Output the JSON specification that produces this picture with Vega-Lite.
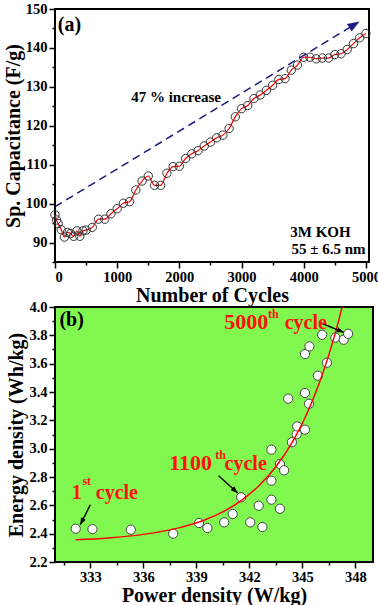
{
  "$schema": "https://vega.github.io/schema/vega-lite/v6.json",
  "padding": {"left": 2, "top": 0, "right": 4, "bottom": 2},
  "bounds": "flush",
  "spacing": 45,
  "background": "white",
  "config": {
    "font": "Liberation Serif",
    "view": {"stroke": "black", "strokeWidth": 2},
    "axis": {
      "grid": false, "domain": false,
      "tickColor": "black", "tickWidth": 1.5,
      "labelFont": "Liberation Serif", "labelFontWeight": "bold", "labelFontSize": 14.5, "labelColor": "black", "labelPadding": 2,
      "titleFont": "Liberation Serif", "titleFontWeight": "bold", "titleFontSize": 20, "titleColor": "black"
    }
  },
  "vconcat": [
    {
      "width": 314, "height": 253,
      "encoding": {
        "x": {"field": "x", "type": "quantitative", "scale": {"domain": [0, 5050], "nice": false, "zero": false},
          "axis": {"title": "Number of Cycles", "values": [0,500,1000,1500,2000,2500,3000,3500,4000,4500,5000], "format": "d",
            "labelExpr": "datum.value % 1000 === 0 ? datum.label : ''",
            "tickSize": {"condition": {"test": "datum.value % 1000 === 0", "value": 6}, "value": 3},
            "titlePadding": 2}},
        "y": {"field": "y", "type": "quantitative", "scale": {"domain": [85, 150], "nice": false, "zero": false},
          "axis": {"title": "Sp. Capacitance (F/g)", "values": [85,90,95,100,105,110,115,120,125,130,135,140,145,150],
            "labelExpr": "datum.value % 10 === 0 ? datum.label : ''",
            "tickSize": {"condition": {"test": "datum.value % 10 === 0", "value": 6}, "value": 3},
            "titlePadding": 2}}
      },
      "layer": [
        {
          "data": {"values": [
            {"x":0,"y":97.1},{"x":25,"y":95.8},{"x":50,"y":94.9},{"x":100,"y":93.3},{"x":150,"y":91.4},{"x":200,"y":92.6},{"x":250,"y":92.3},{"x":300,"y":91.6},{"x":350,"y":93.0},{"x":400,"y":91.6},{"x":450,"y":93.0},{"x":500,"y":93.2},{"x":600,"y":93.9},{"x":700,"y":96.0},{"x":800,"y":96.0},{"x":900,"y":97.4},{"x":1000,"y":98.7},{"x":1100,"y":100.1},{"x":1200,"y":100.5},{"x":1300,"y":103.5},{"x":1400,"y":105.8},{"x":1500,"y":107.1},{"x":1600,"y":104.7},{"x":1700,"y":104.7},{"x":1800,"y":107.8},{"x":1900,"y":109.5},{"x":2000,"y":109.6},{"x":2100,"y":111.6},{"x":2200,"y":112.8},{"x":2300,"y":113.6},{"x":2400,"y":114.8},{"x":2500,"y":115.8},{"x":2600,"y":116.9},{"x":2700,"y":117.6},{"x":2800,"y":119.3},{"x":2900,"y":122.3},{"x":3000,"y":124.4},{"x":3100,"y":125.2},{"x":3200,"y":127.0},{"x":3300,"y":127.9},{"x":3400,"y":129.1},{"x":3500,"y":130.4},{"x":3600,"y":131.9},{"x":3700,"y":132.1},{"x":3800,"y":134.3},{"x":3900,"y":135.6},{"x":4000,"y":137.6},{"x":4100,"y":137.6},{"x":4200,"y":137.2},{"x":4300,"y":137.4},{"x":4400,"y":137.4},{"x":4500,"y":138.3},{"x":4600,"y":138.5},{"x":4700,"y":139.6},{"x":4800,"y":141.1},{"x":4900,"y":142.6},{"x":5000,"y":143.7}
          ]},
          "layer": [
            {"mark": {"type": "line", "color": "#ff0000", "strokeWidth": 1.2, "interpolate": "monotone"}},
            {"mark": {"type": "point", "shape": "circle", "filled": false, "stroke": "#333333", "strokeWidth": 1, "size": 70, "opacity": 1}}
          ]
        },
        {
          "data": {"values": [{"x": 0, "y": 99.2}, {"x": 4800, "y": 145.85}]},
          "mark": {"type": "line", "color": "#1a1a80", "strokeWidth": 1.5, "strokeDash": [8, 5]}
        },
        {
          "data": {"values": [{"x": 4898, "y": 146.8}]},
          "mark": {"type": "point", "shape": "M0,0L0.75,2L-0.75,2Z", "filled": true, "fill": "#1a1a80", "strokeWidth": 0, "size": 144, "angle": 58.5, "opacity": 1}
        },
        {
          "data": {"values": [{"x": 44, "y": 144.3, "t": "(a)"}]},
          "mark": {"type": "text", "font": "Liberation Serif", "fontWeight": "bold", "fontSize": 20, "align": "left", "baseline": "alphabetic", "color": "black"},
          "encoding": {"text": {"field": "t"}}
        },
        {
          "data": {"values": [{"x": 1947, "y": 126.1, "t": "47 % increase"}, {"x": 4269, "y": 91.3, "t": "3M KOH"}, {"x": 4398, "y": 87.0, "t": "55 ± 6.5 nm"}]},
          "mark": {"type": "text", "font": "Liberation Serif", "fontWeight": "bold", "fontSize": 15, "align": "center", "baseline": "alphabetic", "color": "black"},
          "encoding": {"text": {"field": "t"}}
        }
      ]
    },
    {
      "width": 318, "height": 255,
      "view": {"fill": "#80F850", "stroke": "black", "strokeWidth": 2},
      "encoding": {
        "x": {"field": "x", "type": "quantitative", "scale": {"domain": [331, 349], "nice": false, "zero": false},
          "axis": {"title": "Power density (W/kg)", "values": [331.5,333,334.5,336,337.5,339,340.5,342,343.5,345,346.5,348], "format": "d",
            "labelExpr": "(datum.value - 333) % 3 === 0 ? datum.label : ''",
            "tickSize": {"condition": {"test": "(datum.value - 333) % 3 === 0", "value": 6}, "value": 3},
            "titlePadding": 2}},
        "y": {"field": "y", "type": "quantitative", "scale": {"domain": [2.2, 4.0], "nice": false, "zero": false},
          "axis": {"title": "Energy density (Wh/kg)", "values": [2.2,2.3,2.4,2.5,2.6,2.7,2.8,2.9,3.0,3.1,3.2,3.3,3.4,3.5,3.6,3.7,3.8,3.9,4.0], "format": ".1f",
            "labelExpr": "round(datum.value * 10) % 2 === 0 ? datum.label : ''",
            "tickSize": {"condition": {"test": "round(datum.value * 10) % 2 === 0", "value": 6}, "value": 3},
            "titlePadding": 2}}
      },
      "layer": [
        {
          "data": {"values": [
            {"x":332.17,"y":2.435},{"x":333.12,"y":2.432},{"x":335.29,"y":2.428},{"x":337.69,"y":2.40},{"x":339.15,"y":2.475},{"x":339.63,"y":2.44},{"x":340.58,"y":2.48},{"x":341.06,"y":2.539},{"x":341.54,"y":2.657},{"x":342.05,"y":2.48},{"x":342.53,"y":2.597},{"x":342.74,"y":2.447},{"x":343.25,"y":2.993},{"x":343.25,"y":2.774},{"x":343.25,"y":2.64},{"x":343.73,"y":2.892},{"x":343.73,"y":2.576},{"x":343.97,"y":2.847},{"x":344.41,"y":3.045},{"x":344.68,"y":3.102},{"x":344.71,"y":3.157},{"x":345.15,"y":3.134},{"x":344.2,"y":3.353},{"x":345.15,"y":3.393},{"x":345.38,"y":3.317},{"x":345.88,"y":3.515},{"x":346.39,"y":3.607},{"x":345.15,"y":3.668},{"x":345.4,"y":3.722},{"x":346.12,"y":3.804},{"x":346.87,"y":3.784},{"x":347.34,"y":3.769},{"x":347.59,"y":3.811}
          ]},
          "mark": {"type": "point", "shape": "circle", "filled": true, "fill": "white", "stroke": "#444444", "strokeWidth": 1, "size": 85, "opacity": 1}
        },
        {
          "data": {"values": [
            {"x":332.17,"y":2.357},{"x":334,"y":2.370},{"x":336,"y":2.395},{"x":338,"y":2.441},{"x":339.5,"y":2.498},{"x":340.5,"y":2.554},{"x":341.5,"y":2.630},{"x":342.5,"y":2.733},{"x":343.5,"y":2.872},{"x":344.5,"y":3.061},{"x":345.2,"y":3.231},{"x":345.9,"y":3.442},{"x":346.5,"y":3.662},{"x":347.0,"y":3.877},{"x":347.3,"y":4.024}
          ]},
          "mark": {"type": "line", "color": "#ff0000", "strokeWidth": 1.5, "interpolate": "monotone", "clip": true}
        },
        {
          "data": {"values": [
            {"x":333.0,"y":2.604,"id":"a"},{"x":332.43,"y":2.463,"id":"a"},
            {"x":340.26,"y":2.809,"id":"b"},{"x":341.34,"y":2.687,"id":"b"},
            {"x":345.95,"y":3.892,"id":"c"},{"x":347.34,"y":3.821,"id":"c"}
          ]},
          "mark": {"type": "line", "color": "black", "strokeWidth": 1.5},
          "encoding": {"detail": {"field": "id"}}
        },
        {
          "data": {"values": [{"x":332.43,"y":2.463}]},
          "mark": {"type": "point", "shape": "M0,0L0.75,2L-0.75,2Z", "filled": true, "fill": "black", "strokeWidth": 0, "size": 49, "angle": 206.6, "opacity": 1}
        },
        {
          "data": {"values": [{"x":341.34,"y":2.687}]},
          "mark": {"type": "point", "shape": "M0,0L0.75,2L-0.75,2Z", "filled": true, "fill": "black", "strokeWidth": 0, "size": 49, "angle": 132.2, "opacity": 1}
        },
        {
          "data": {"values": [{"x":347.34,"y":3.821}]},
          "mark": {"type": "point", "shape": "M0,0L0.75,2L-0.75,2Z", "filled": true, "fill": "black", "strokeWidth": 0, "size": 49, "angle": 112.3, "opacity": 1}
        },
        {
          "data": {"values": [{"x": 331.25, "y": 3.863, "t": "(b)"}]},
          "mark": {"type": "text", "font": "Liberation Serif", "fontWeight": "bold", "fontSize": 20, "align": "left", "baseline": "alphabetic", "color": "black"},
          "encoding": {"text": {"field": "t"}}
        },
        {
          "data": {"values": [{"x": 331.95, "y": 2.645, "t": "1"}, {"x": 333.31, "y": 2.645, "t": "cycle"}, {"x": 340.6, "y": 2.847, "t": "cycle"}, {"x": 344.0, "y": 3.844, "t": "cycle"}]},
          "mark": {"type": "text", "font": "Liberation Serif", "fontWeight": "bold", "fontSize": 20, "align": "left", "baseline": "alphabetic", "color": "#ff1010"},
          "encoding": {"text": {"field": "t"}}
        },
        {
          "data": {"values": [{"x": 338.68, "y": 2.847, "t": "1100"}, {"x": 341.82, "y": 3.844, "t": "5000"}]},
          "mark": {"type": "text", "font": "Liberation Serif", "fontWeight": "bold", "fontSize": 22, "align": "center", "baseline": "alphabetic", "color": "#ff1010"},
          "encoding": {"text": {"field": "t"}}
        },
        {
          "data": {"values": [{"x": 332.55, "y": 2.745, "t": "st"}, {"x": 340.07, "y": 2.93, "t": "th"}, {"x": 343.06, "y": 3.92, "t": "th"}]},
          "mark": {"type": "text", "font": "Liberation Serif", "fontWeight": "bold", "fontSize": 12, "align": "left", "baseline": "alphabetic", "color": "#ff1010"},
          "encoding": {"text": {"field": "t"}}
        }
      ]
    }
  ]
}
